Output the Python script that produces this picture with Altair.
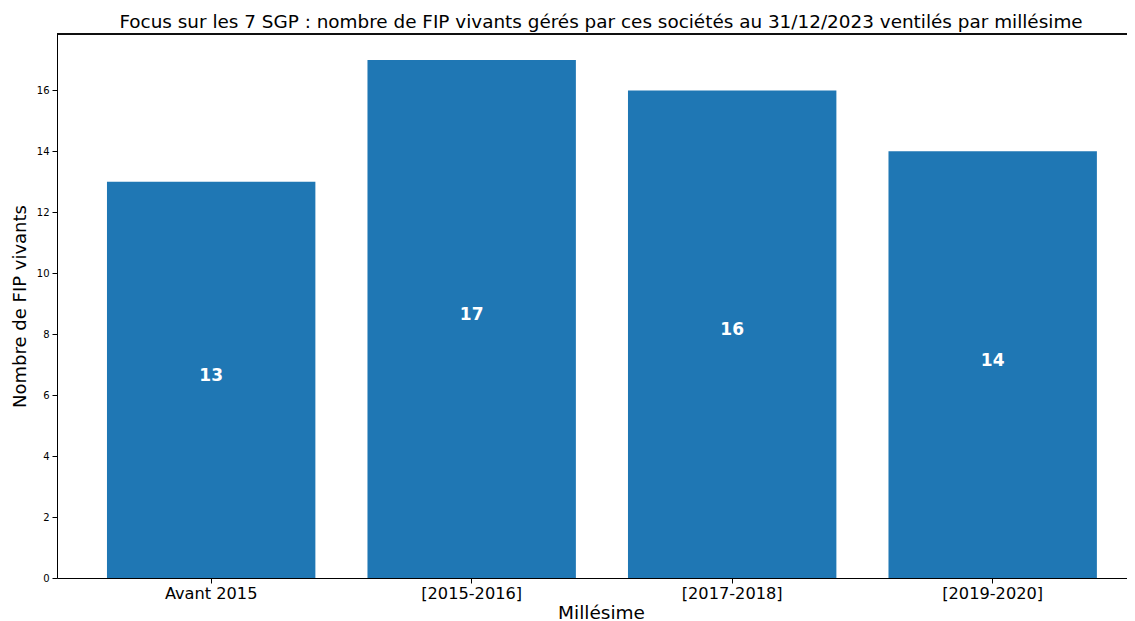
import altair as alt
import pandas as pd

categories = ["Avant 2015", "[2015-2016]", "[2017-2018]", "[2019-2020]"]
counts = [13, 17, 16, 14]
title_text = "Focus sur les 7 SGP : nombre de FIP vivants gérés par ces sociétés au 31/12/2023 ventilés par millésime"

df = pd.DataFrame({"cat": categories, "n": counts})

W, H = 1070, 544
FONT = "DejaVu Sans"

x = alt.X(
    "cat:N", sort=categories, title="Millésime",
    scale=alt.Scale(paddingInner=0.2, paddingOuter=0.1537, align=0.624),
    axis=alt.Axis(labelAngle=0, labelFontSize=16.2, titleFontSize=18.5, titleFontWeight="normal",
                  domainColor="black", tickColor="black", labelColor="black", titleColor="black",
                  tickSize=5, labelPadding=2, titlePadding=2, titleX=544, grid=False,
                  labelFont=FONT, titleFont=FONT),
)
y = alt.Y(
    "n:Q", title="Nombre de FIP vivants",
    scale=alt.Scale(domain=[0, 17.85], nice=False, zero=True),
    axis=alt.Axis(values=[0, 2, 4, 6, 8, 10, 12, 14, 16], labelFontSize=10, titleFontSize=18,
                  titleFontWeight="normal", domainColor="black", tickColor="black",
                  labelColor="black", titleColor="black", tickSize=5, labelPadding=3,
                  titlePadding=7, grid=False, labelFont=FONT, titleFont=FONT),
)

bars = alt.Chart(df).mark_bar(color="#1f77b4").encode(x=x, y=y)

labels = alt.Chart(df).transform_calculate(mid="datum.n / 2").mark_text(
    color="white", fontWeight="bold", fontSize=17, font=FONT, baseline="middle", dy=-4
).encode(x=alt.X("cat:N", sort=categories), y=alt.Y("mid:Q"), text="n:Q")

top_line = alt.Chart(df).mark_rule(color="black", strokeWidth=1).encode(
    x=alt.value(0), x2=alt.value(W), y=alt.value(0)
)

chart = alt.layer(bars, labels, top_line).properties(
    width=W, height=H,
    title=alt.TitleParams(title_text, fontSize=18.4, font=FONT, fontWeight="normal",
                          color="black", anchor="middle", dx=9, offset=2),
    autosize=alt.AutoSizeParams(type="none"),
    padding={"left": 49, "top": 26, "right": 0, "bottom": 47},
).configure_view(stroke=None)

chart.save("out.html", embed_options={"renderer": "svg", "actions": False})
